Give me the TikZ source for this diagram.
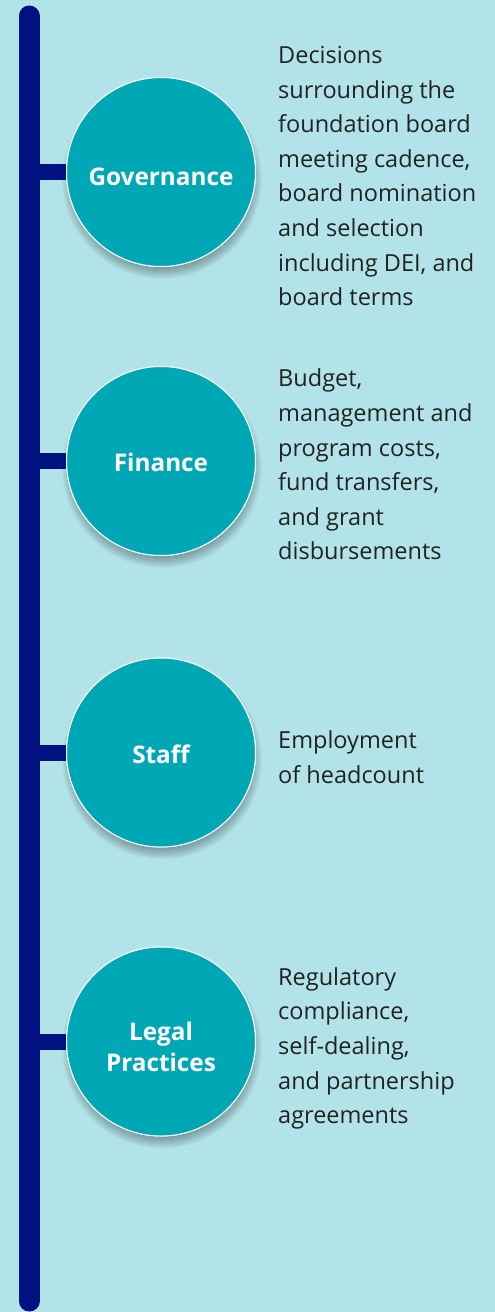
\documentclass[tikz,border=0pt]{standalone}
\usepackage{fontspec}
\setmainfont{Open Sans}
\usetikzlibrary{calc}
\definecolor{bgc}{HTML}{B2E3E8}
\definecolor{barc}{HTML}{00127F}
\definecolor{circc}{HTML}{00A8B5}
\definecolor{txtc}{HTML}{222222}
\begin{document}
\begin{tikzpicture}[x=1pt,y=-1pt,
  topic/.style={circle, fill=circc, draw=white, line width=1pt, minimum size=189pt, inner sep=0pt},
  toplabel/.style={text=white, inner sep=0pt, align=center, font=\fontsize{24.3pt}{31.7pt}\selectfont\bfseries},
  desctext/.style={text=txtc, inner sep=0pt, align=left, anchor=north west, font=\fontsize{23.5pt}{34.6pt}\selectfont},
  barline/.style={draw=barc, line width=21pt, line cap=round},
  branch/.style={draw=barc, line width=16pt},
]
\useasboundingbox (0,0) rectangle (495,1312);
\fill[bgc] (0,0) rectangle (495,1312);
% timeline bar
\coordinate (bartop) at (29,16);
\coordinate (barbot) at (29,1301);
\draw[barline] (bartop) -- (barbot);
% shadows
\foreach \cy in {172,461,752.5,1041.5}{
  \foreach \r in {86,87,...,100}{
    \fill[black, opacity=0.026] (162,\cy+7) circle (\r pt);
  }
}
% topic circles
\node[topic] (gov) at (161,172) {};
\node[topic] (fin) at (161,461) {};
\node[topic] (staff) at (161,752.5) {};
\node[topic] (legal) at (161,1041.5) {};
% branches
\foreach \n in {gov,fin,staff,legal}{
  \draw[branch] (\n.west -| bartop) -- (\n.west);
}
% redraw circles on top of branches
\node[topic] at (gov) {};
\node[topic] at (fin) {};
\node[topic] at (staff) {};
\node[topic] at (legal) {};
% labels
\node[toplabel, anchor=north] (govl) at (161,162.8) {\strut Governance};
\node[toplabel, anchor=north] (finl) at (161,449.5) {\strut Finance};
\node[toplabel, anchor=north] (staffl) at (161,740.8) {\strut Staff};
\node[toplabel, anchor=north] (legall) at (161,1017.8) {\strut Legal\\Practices};
% descriptions
\node[desctext] (govd) at (278,39.1) {\strut Decisions\\surrounding the\\foundation board\\meeting cadence,\\board nomination\\and selection\\including DEI, and\\board terms};
\node[desctext] (find) at (278,362.5) {\strut Budget,\\management and\\program costs,\\fund transfers,\\and grant\\disbursements};
\node[desctext] (staffd) at (278,724.1) {\strut Employment\\of headcount};
\node[desctext] (legald) at (278,960.8) {\strut Regulatory\\compliance,\\self-dealing,\\and partnership\\agreements};
\end{tikzpicture}
\end{document}
